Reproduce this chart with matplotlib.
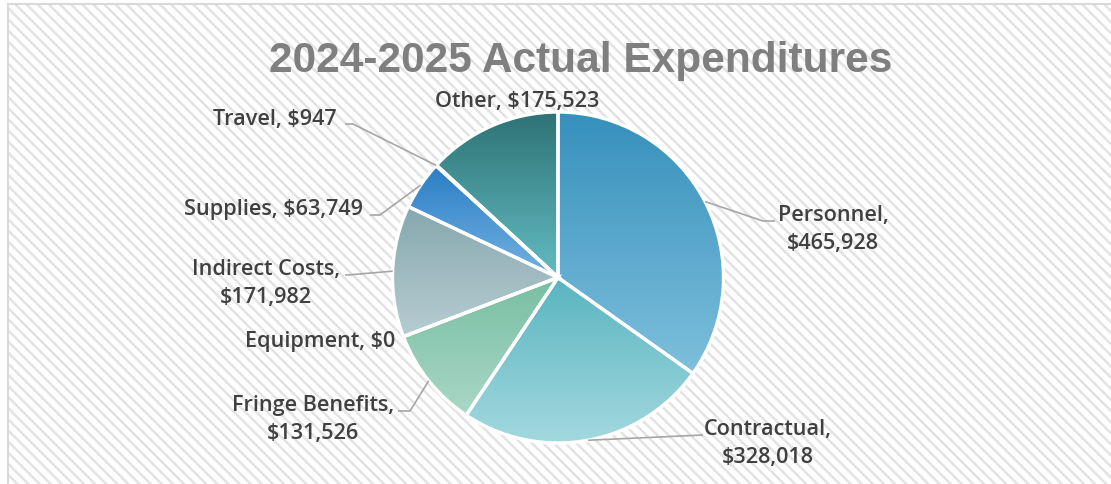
import matplotlib
matplotlib.use('Agg')
import matplotlib.pyplot as plt
from matplotlib.patches import Rectangle
import numpy as np

_W, _H = 1111, 484

categories = ['Personnel', 'Contractual', 'Fringe Benefits', 'Equipment',
              'Indirect Costs', 'Supplies', 'Travel', 'Other']
amounts = [465928, 328018, 131526, 0, 171982, 63749, 947, 175523]
title = '2024-2025 Actual Expenditures'

# gradient colours per slice (top, bottom)
grad_top = ['#3590bc', '#58b4bf', '#78bea3', '#78bea3',
            '#86a8ae', '#2a7dc5', '#2e7d6e', '#2e7274']
grad_bottom = ['#7ebfdc', '#a3d9df', '#a9d7c6', '#a9d7c6',
               '#b7cdd2', '#73b2e2', '#5fa89a', '#62bcc3']

# label layout in pixels (y from the top): x, baseline of last line, ha, line break
label_pos = {
    'Personnel': (833, 249, 'center', True),
    'Contractual': (768, 463, 'center', True),
    'Fringe Benefits': (313, 439, 'center', True),
    'Equipment': (395, 347, 'right', False),
    'Indirect Costs': (266, 303, 'center', True),
    'Supplies': (363, 215, 'right', False),
    'Travel': (337, 125, 'right', False),
    'Other': (517, 107, 'center', False),
}
# leader line bends / ends (pixels from top), start is taken from the slice
leader_pts = {
    'Personnel': [(763, 221), (775, 221)],
    'Contractual': [(703, 435)],
    'Fringe Benefits': [(410, 411), (398, 411)],
    'Indirect Costs': [(348, 275), (345, 275)],
    'Supplies': [(380, 215), (370, 215)],
    'Travel': [(353, 124), (345, 124)],
}

_CENTER = (558, _H - 277.5)
_RADIUS = 165.5


def flip(p):
    return p[0], _H - p[1]


fig = plt.figure(figsize=(_W / 100, _H / 100), dpi=100)
fig.patch.set_facecolor('white')
ax = fig.add_axes([0, 0, 1, 1])

# hatched chart area
plt.rcParams['hatch.color'] = '#e3e3e3'
plt.rcParams['hatch.linewidth'] = 1.8
ax.add_patch(Rectangle((8, -20), 1200, _H - 4 + 20, facecolor='white',
                       edgecolor='#e3e3e3', lw=0, hatch='\\\\\\', zorder=0))
ax.add_patch(Rectangle((8, -20), 1200, _H - 4 + 20, facecolor='none',
                       edgecolor='#d9d9d9', lw=1.5, zorder=0.5))

wedges, _ = ax.pie(amounts, startangle=90, counterclock=False,
                   center=_CENTER, radius=_RADIUS, frame=True,
                   wedgeprops=dict(facecolor='none', edgecolor='white',
                                   linewidth=2.4, zorder=3))

grad = np.linspace(0, 1, 256)[:, None]
for i, w in enumerate(wedges):
    if amounts[i] == 0:
        continue
    ext = w.get_path().get_extents()
    cmap = matplotlib.colors.LinearSegmentedColormap.from_list(
        'g%d' % i, [grad_top[i], grad_bottom[i]])
    im = ax.imshow(grad, cmap=cmap, aspect='auto', origin='upper',
                   extent=(ext.x0, ext.x1, ext.y0, ext.y1), zorder=2,
                   interpolation='bilinear')
    im.set_clip_path(w)

# labels and leader lines
for i, cat in enumerate(categories):
    x, yb, ha, brk = label_pos[cat]
    val = '${:,.0f}'.format(amounts[i])
    txt = cat + (',\n' if brk else ', ') + val
    ax.text(x, _H - yb, txt, ha=ha, va='baseline', multialignment='center',
            fontsize=15.6, family='Open Sans', fontweight='semibold',
            color='#404040', linespacing=1.45, zorder=5)
    if cat in leader_pts:
        w = wedges[i]
        mid = np.deg2rad((w.theta1 + w.theta2) / 2)
        start = (_CENTER[0] + _RADIUS * np.cos(mid),
                 _CENTER[1] + _RADIUS * np.sin(mid))
        pts = [start] + [flip(p) for p in leader_pts[cat]]
        xs, ys = zip(*pts)
        ax.plot(xs, ys, color='#a6a6a6', lw=1.2, zorder=4,
                solid_capstyle='butt')

ax.text(580.5, _H - 72, title, ha='center', va='baseline',
        fontsize=30.5, family='Liberation Sans', fontweight='bold',
        color='#7f7f7f', zorder=5)

ax.set_xlim(0, _W)
ax.set_ylim(0, _H)
ax.axis('off')

fig.savefig('out.png', dpi=100, facecolor='white')
